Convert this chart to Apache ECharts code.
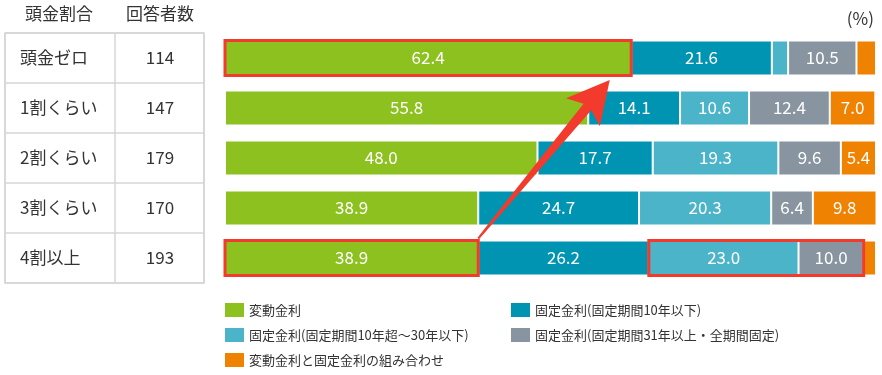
<!DOCTYPE html>
<html><head><meta charset="utf-8">
<script src="https://cdn.jsdelivr.net/npm/echarts@6/dist/echarts.min.js"></script>
<style>html,body{margin:0;padding:0;background:#fff}#c{width:882px;height:375px}</style>
</head><body><div id="c"></div>
<script>
const categories = ['頭金ゼロ', '1割くらい', '2割くらい', '3割くらい', '4割以上'];
const respondents = [114, 147, 179, 170, 193];
const seriesNames = ['変動金利', '固定金利(固定期間10年以下)', '固定金利(固定期間10年超～30年以下)', '固定金利(固定期間31年以上・全期間固定)', '変動金利と固定金利の組み合わせ'];
const variableRate = [62.4, 55.8, 48.0, 38.9, 38.9];
const fixedUpTo10 = [21.6, 14.1, 17.7, 24.7, 26.2];
const fixed10to30 = [2.5, 10.6, 19.3, 20.3, 23.0];
const fixed31plus = [10.5, 12.4, 9.6, 6.4, 10.0];
const mixed = [3.0, 7.0, 5.4, 9.8, 1.9];
const tableHeaders = ['頭金割合', '回答者数'];
const unitLabel = '(%)';
// highlight boxes: [startValue, endValue, categoryIndex]
const highlightBoxes = [[0, 62.4, 0], [0, 38.9, 4], [65.1, 98.1, 4]];
// arrow: [fromValue, fromCategory, toValue, toCategory]
const arrowData = [[38.9, 4, 59.1, 0]];

const colors = ['#8cc11f', '#0094b3', '#4cb4c9', '#8895a0', '#ef8200'];
const values = [variableRate, fixedUpTo10, fixed10to30, fixed31plus, mixed];
const FONT = '"Noto Sans CJK JP", "Noto Sans", sans-serif';
const RED = '#f23b2c';
const BAR_W = 35;

const chart = echarts.init(document.getElementById('c'), null, {renderer: 'canvas'});

const barSeries = values.map((v, i) => ({
  name: seriesNames[i],
  type: 'bar',
  stack: 'total',
  xAxisIndex: 0, yAxisIndex: 0,
  barWidth: BAR_W,
  data: v,
  itemStyle: {color: colors[i], borderColor: '#fff', borderWidth: 1},
  label: {
    show: true, position: 'inside', color: '#fff', fontSize: 17, fontFamily: FONT,
    formatter: p => p.value >= 4 ? p.value.toFixed(1) : ''
  },
  emphasis: {disabled: true},
  animation: false
}));

const legendCommon = {
  orient: 'vertical', top: 303, padding: 0,
  itemWidth: 19, itemHeight: 14, itemGap: 11, icon: 'rect',
  itemStyle: {borderWidth: 0},
  textStyle: {fontSize: 13, color: '#333', fontFamily: FONT},
  selectedMode: false
};

const option = {
  animation: false,
  textStyle: {fontFamily: FONT},
  grid: [
    {left: 225, right: 6, top: 33, height: 250},
    {left: 5, top: 33, width: 199, height: 250, show: true, borderColor: '#d6d6d6', borderWidth: 1.5, backgroundColor: 'transparent'}
  ],
  xAxis: [
    {gridIndex: 0, type: 'value', min: 0, max: 100, show: false},
    {gridIndex: 1, type: 'value', min: 0, max: 199, interval: 110,
     axisLine: {show: false}, axisTick: {show: false}, axisLabel: {show: false},
     splitLine: {show: true, lineStyle: {color: '#d6d6d6', width: 1.5}}}
  ],
  yAxis: [
    {gridIndex: 0, type: 'category', inverse: true, data: categories, show: false},
    {gridIndex: 1, type: 'category', inverse: true, data: categories,
     axisLine: {show: false}, axisTick: {show: false},
     axisLabel: {inside: true, margin: 15, align: 'left', color: '#333', fontSize: 17, fontFamily: FONT},
     splitLine: {show: true, lineStyle: {color: '#d6d6d6', width: 1.5}}},
    {gridIndex: 1, type: 'category', inverse: true, position: 'right', data: respondents.map(String),
     axisLine: {show: false}, axisTick: {show: false}, splitLine: {show: false},
     axisLabel: {inside: true, margin: 44, align: 'center', color: '#333', fontSize: 17, fontFamily: FONT}}
  ],
  legend: [
    Object.assign({data: [seriesNames[0], seriesNames[2], seriesNames[4]], left: 225}, legendCommon),
    Object.assign({data: [seriesNames[1], seriesNames[3]], left: 511}, legendCommon)
  ],
  graphic: [
    {type: 'text', left: 25, top: 5, style: {text: tableHeaders[0], fontSize: 17, fill: '#333', fontFamily: FONT}},
    {type: 'text', left: 126, top: 5, style: {text: tableHeaders[1], fontSize: 17, fill: '#333', fontFamily: FONT}},
    {type: 'text', right: 8, top: 10, style: {text: unitLabel, fontSize: 17, fill: '#333', fontFamily: FONT}}
  ],
  series: barSeries.concat([
    {
      type: 'custom', xAxisIndex: 0, yAxisIndex: 0, z: 10, silent: true,
      data: highlightBoxes,
      renderItem: (params, api) => {
        const a = api.coord([api.value(0), api.value(2)]);
        const b = api.coord([api.value(1), api.value(2)]);
        return {type: 'rect', shape: {x: a[0], y: a[1] - BAR_W / 2, width: b[0] - a[0], height: BAR_W},
          style: {fill: 'none', stroke: RED, lineWidth: 3}};
      }
    },
    {
      type: 'custom', xAxisIndex: 0, yAxisIndex: 0, z: 11, silent: true,
      data: arrowData,
      renderItem: (params, api) => {
        const s0 = api.coord([api.value(0), api.value(1)]);
        const t0 = api.coord([api.value(2), api.value(3)]);
        const S = [s0[0], s0[1] - BAR_W / 2 - 2];
        const T = [t0[0], t0[1] + 22];
        const dx = T[0] - S[0], dy = T[1] - S[1];
        const L = Math.hypot(dx, dy);
        const ux = dx / L, uy = dy / L, nx = -uy, ny = ux;
        const headLen = 42, headHalf = 22, neckHalf = 5, tailHalf = 1;
        const B = [T[0] - ux * headLen, T[1] - uy * headLen];
        const N = [T[0] - ux * (headLen - 7), T[1] - uy * (headLen - 7)];
        const pts = [
          [S[0] + nx * tailHalf, S[1] + ny * tailHalf],
          [N[0] + nx * neckHalf, N[1] + ny * neckHalf],
          [B[0] + nx * headHalf, B[1] + ny * headHalf],
          T,
          [B[0] - nx * headHalf, B[1] - ny * headHalf],
          [N[0] - nx * neckHalf, N[1] - ny * neckHalf],
          [S[0] - nx * tailHalf, S[1] - ny * tailHalf]
        ];
        return {type: 'polygon', shape: {points: pts}, style: {fill: RED}};
      }
    },
    {type: 'bar', xAxisIndex: 1, yAxisIndex: 1, data: [], silent: true}
  ])
};
chart.setOption(option);
</script></body></html>
